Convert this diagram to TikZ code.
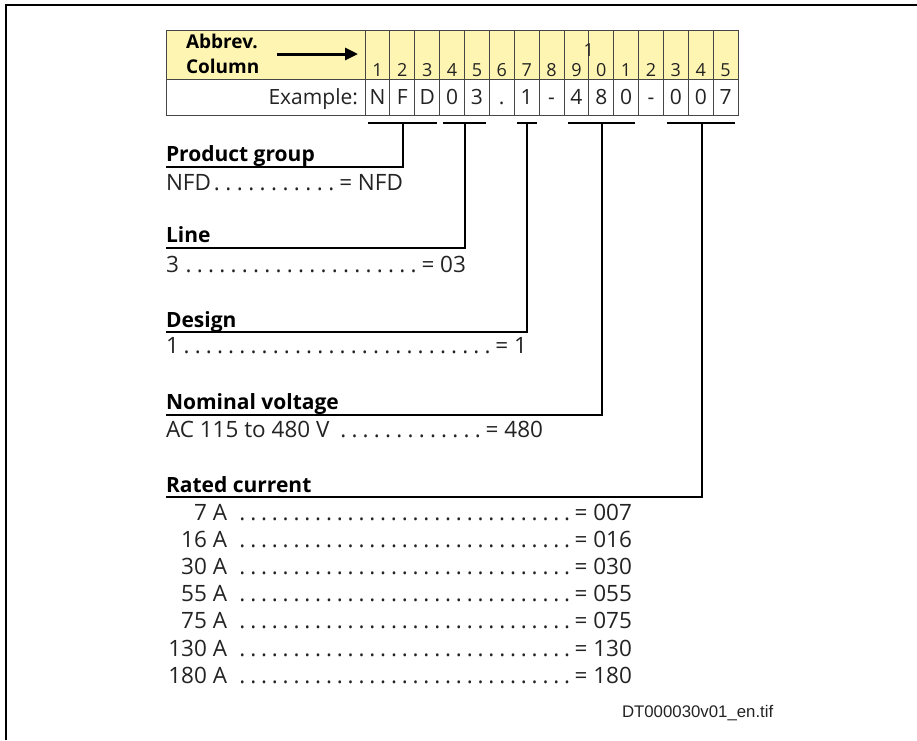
\documentclass[tikz,border=0pt]{standalone}
\usepackage{fontspec}
\setmainfont{Open Sans}
\newfontfamily\capfont{Liberation Sans}
\usetikzlibrary{arrows.meta}
\definecolor{hdr}{RGB}{255,245,178}
\definecolor{txt}{RGB}{35,35,35}
\definecolor{gridc}{RGB}{70,70,70}
\newcommand{\dleader}{\xleaders\hbox to 10.8pt{\hss.\hss}\hfill}
\newcommand{\dotrow}[3]{\hbox to #1{#2\dleader\kern2pt= #3}}
\newcommand{\ratedrow}[2]{\hbox to 466pt{\hbox to 61pt{\hss #1}\kern10pt\dleader\kern2pt= #2}}
\begin{document}
\begin{tikzpicture}[x=1pt,y=-1pt,
  every node/.style={inner sep=0pt, outer sep=0pt, text=txt},
  head/.style={font=\fontsize{21}{25}\selectfont\bfseries, anchor=base west, text=black},
  val/.style={font=\fontsize{22.5}{27}\selectfont, anchor=base west},
  bracket/.style={line width=2.6pt, draw=black},
  frame/.style={line width=2pt, draw=black},
  hcell/.style={draw=gridc, line width=0.8pt, fill=hdr, minimum width=24.87pt, minimum height=49pt},
  ecell/.style={draw=gridc, line width=0.8pt, fill=white, minimum width=24.87pt, minimum height=36pt},
  tabtxt/.style={font=\fontsize{21}{25}\selectfont, anchor=base},
  hdrtxt/.style={font=\fontsize{18}{21}\selectfont, anchor=base},
  abbr/.style={font=\fontsize{19}{22}\selectfont\bfseries, anchor=base west, text=black},
  arr/.style={line width=3pt, draw=black, -{Triangle[length=13pt,width=12pt]}},
]
\useasboundingbox (0,0) rectangle (917,740);
% outer frame
\coordinate (fBL) at (6,740);
\coordinate (fTL) at (6,5);
\coordinate (fTR) at (917,5);
\draw[frame] (fBL) -- (fTL) -- (fTR);

% table label cells
\node[draw=gridc, line width=0.8pt, fill=hdr, minimum width=199pt, minimum height=49pt] (labh) at (265.5,54.5) {};
\node[draw=gridc, line width=0.8pt, fill=white, minimum width=199pt, minimum height=36pt] (labe) at (265.5,97) {};
\node[abbr] (abbrev) at (186,48) {Abbrev.};
\node[abbr] (column) at (186,73) {Column};
\coordinate (arS) at (277,54);
\coordinate (arE) at (358,54);
\draw[arr] (arS) -- (arE);
\node[tabtxt, anchor=base east] (example) at (358,104) {Example:};

% cells
\foreach \d [count=\i] in {1,2,3,4,5,6,7,8,9,0,1,2,3,4,5}{
  \pgfmathsetmacro\cx{365+24.87*(\i-0.5)}
  \node[hcell] (h\i) at (\cx,54.5) {};
  \node[hdrtxt] (ht\i) at (\cx,76) {\d};
}
\foreach \d [count=\i] in {N,F,D,0,3,.,1,-,4,8,0,-,0,0,7}{
  \pgfmathsetmacro\cx{365+24.87*(\i-0.5)}
  \node[ecell] (e\i) at (\cx,97) {};
  \node[tabtxt] (et\i) at (\cx,104) {\d};
}
\node[hdrtxt] (ht10top) at (588.8,56) {1};

% brackets
\coordinate (pL) at (368,123); \coordinate (pR) at (437,123); \coordinate (pC) at (403,123); \coordinate (pH) at (166,167);
\coordinate (lL) at (443,123); \coordinate (lR) at (486,123); \coordinate (lC) at (465,123); \coordinate (lH) at (166,248);
\coordinate (dL) at (517,123); \coordinate (dR) at (537,123); \coordinate (dC) at (527,123); \coordinate (dH) at (166,332);
\coordinate (nL) at (568,123); \coordinate (nR) at (635,123); \coordinate (nC) at (602,123); \coordinate (nH) at (166,415);
\coordinate (rL) at (667,123); \coordinate (rR) at (735,123); \coordinate (rC) at (702,123); \coordinate (rH) at (166,497);
\foreach \g in {p,l,d,n,r}{
  \draw[bracket] (\g L) -- (\g R);
  \draw[bracket] (\g C) |- (\g H);
}

% headings and values
\node[head] (ph) at (166,161) {Product group};
\node[val] (pv) at (166,190) {\dotrow{237pt}{NFD}{NFD}};
\node[head] (lh) at (166,242) {Line};
\node[val] (lv) at (166,272) {\dotrow{300pt}{3\kern4pt}{03}};
\node[head] (dh) at (166,327) {Design};
\node[val] (dv) at (166,353) {\dotrow{361pt}{1\kern2pt}{1}};
\node[head] (nh) at (166,409) {Nominal voltage};
\node[val] (nv) at (166,437) {\dotrow{377pt}{AC 115 to 480 V\kern8pt}{480}};
\node[head] (rh) at (166,492) {Rated current};
\foreach \a/\v [count=\k] in {7 A/007,16 A/016,30 A/030,55 A/055,75 A/075,130 A/130,180 A/180}{
  \pgfmathsetmacro\yy{520+27.2*(\k-1)}
  \node[val] (rv\k) at (166,\yy) {\ratedrow{\a}{\v}};
}
\node[font=\capfont\fontsize{16.8}{20}\selectfont, anchor=base west] (fname) at (622,717) {DT000030v01\_en.tif};
\end{tikzpicture}
\end{document}
